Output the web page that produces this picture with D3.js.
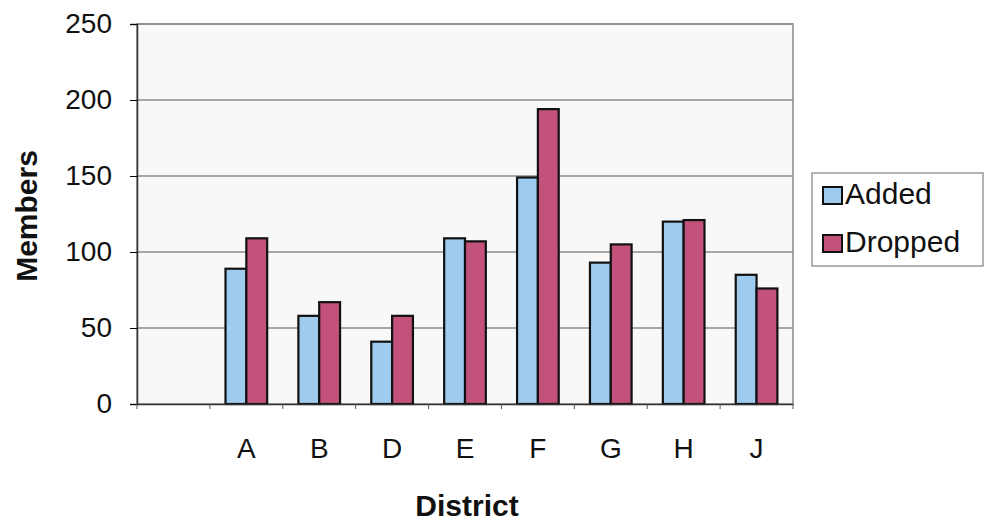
<!DOCTYPE html>
<html>
<head>
<meta charset="utf-8">
<script src="https://cdn.jsdelivr.net/npm/d3@7"></script>
<style>
  body { margin: 0; background: #fff; }
  text { font-family: "Liberation Sans", Arial, sans-serif; }
</style>
</head>
<body>
<svg width="985" height="525"></svg>
<script>
// chart data
const districts = ["", "A", "B", "D", "E", "F", "G", "H", "J"];
const seriesNames = ["Added", "Dropped"];
const added = [null, 89, 58, 41, 109, 149, 93, 120, 85];
const dropped = [null, 109, 67, 58, 107, 194, 105, 121, 76];
const yTicks = [0, 50, 100, 150, 200, 250];
const colors = ["#9ecbee", "#c2527c"];

const svg = d3.select("svg");
const margin = {top: 24, left: 137, right: 192, bottom: 121};
const w = 985, h = 525;

const xScale = d3.scaleBand()
  .domain(districts)
  .range([margin.left, w - margin.right]);
const yScale = d3.scaleLinear()
  .domain([0, 250])
  .range([h - margin.bottom, margin.top]);

// plot background
svg.append("rect")
  .attr("x", margin.left).attr("y", margin.top)
  .attr("width", w - margin.right - margin.left)
  .attr("height", h - margin.bottom - margin.top)
  .attr("fill", "#f8f8f8")
  .attr("stroke", "#8a8a8a").attr("stroke-width", 1.5);

// gridlines
svg.append("g").selectAll("line")
  .data(yTicks.slice(1))
  .enter().append("line")
  .attr("x1", margin.left).attr("x2", w - margin.right)
  .attr("y1", d => yScale(d)).attr("y2", d => yScale(d))
  .attr("stroke", "#8c8c8c").attr("stroke-width", 1.5);

// bars - Excel style gap width 150%
const barW = xScale.bandwidth() / 3.5;
const rows = districts.map((d, i) => ({district: d, vals: [added[i], dropped[i]]})).filter(r => r.vals[0] != null);
const groups = svg.append("g").selectAll("g")
  .data(rows).enter().append("g")
  .attr("transform", d => "translate(" + (xScale(d.district) + xScale.bandwidth() / 2 - barW) + ",0)");
groups.selectAll("rect")
  .data(d => d.vals)
  .enter().append("rect")
  .attr("x", (d, i) => i * barW)
  .attr("y", d => yScale(d))
  .attr("width", barW)
  .attr("height", d => yScale(0) - yScale(d))
  .attr("fill", (d, i) => colors[i])
  .attr("stroke", "#111").attr("stroke-width", 2.2);

// axes
const yAxis = d3.axisLeft(yScale).tickValues(yTicks).tickSize(7).tickPadding(18);
const yg = svg.append("g")
  .attr("transform", "translate(" + margin.left + ",0)")
  .call(yAxis);
yg.select(".domain").attr("stroke", "#333").attr("stroke-width", 1.5);
yg.selectAll("text").attr("font-size", 28).attr("fill", "#111");

const xAxis = d3.axisBottom(xScale).tickSize(0).tickPadding(34);
const xg = svg.append("g")
  .attr("transform", "translate(0," + (h - margin.bottom) + ")")
  .call(xAxis);
xg.select(".domain").attr("stroke", "#333").attr("stroke-width", 1.5);
xg.selectAll("text").attr("font-size", 28).attr("fill", "#111");
// tick marks on band edges
xg.selectAll(".edge")
  .data(districts.concat(["end"]))
  .enter().append("line")
  .attr("class", "edge")
  .attr("x1", (d, i) => i < districts.length ? xScale(d) : w - margin.right)
  .attr("x2", (d, i) => i < districts.length ? xScale(d) : w - margin.right)
  .attr("y1", 0).attr("y2", 5)
  .attr("stroke", "#555");

// axis titles
svg.append("text")
  .attr("x", 467)
  .attr("y", 516)
  .attr("text-anchor", "middle")
  .attr("font-size", 30).attr("font-weight", "bold").attr("fill", "#111")
  .text("District");
svg.append("text")
  .attr("transform", "translate(37,216) rotate(-90)")
  .attr("text-anchor", "middle")
  .attr("font-size", 30).attr("font-weight", "bold").attr("fill", "#111")
  .text("Members");

// legend
const legend = svg.append("g").attr("id", "legend")
  .attr("transform", "translate(812,173)");
legend.append("rect")
  .attr("width", 171).attr("height", 93)
  .attr("fill", "#fff").attr("stroke", "#999").attr("stroke-width", 1.5);
const items = legend.selectAll(".item")
  .data(seriesNames).enter().append("g")
  .attr("class", "item")
  .attr("transform", (d, i) => "translate(11," + (22 + i * 48) + ")");
items.append("rect")
  .attr("x", 0).attr("y", -8)
  .attr("width", 19).attr("height", 17)
  .attr("fill", (d, i) => colors[i])
  .attr("stroke", "#111").attr("stroke-width", 2);
items.append("text")
  .attr("x", 22).attr("y", 9)
  .attr("font-size", 30).attr("fill", "#111")
  .text(d => d);
</script>
</body>
</html>
